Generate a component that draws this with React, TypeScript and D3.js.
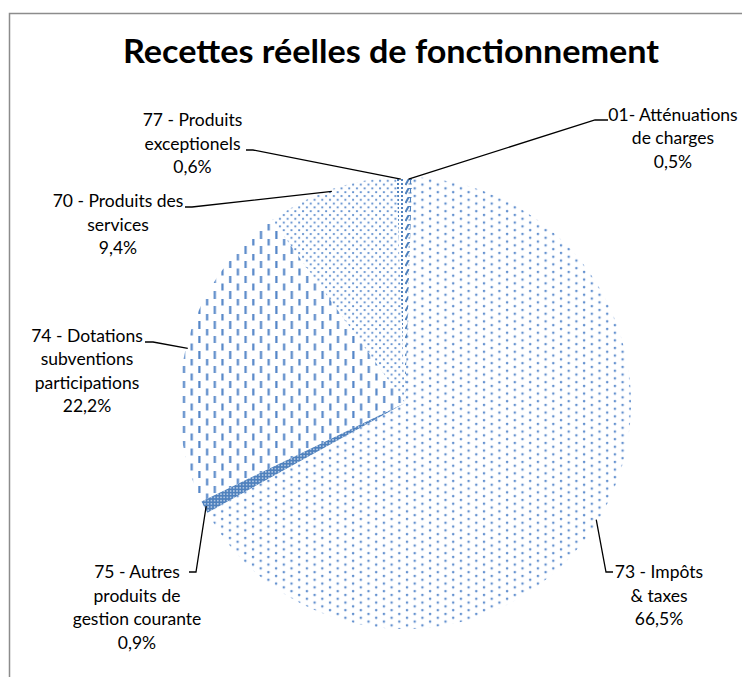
import React from 'react';
import * as d3 from 'd3';

const title = 'Recettes réelles de fonctionnement';
const categories = ['01', '73', '75', '74', '70', '77'];
const labelLines: string[][] = [
  ['01- Atténuations', 'de charges'],
  ['73 - Impôts', '& taxes'],
  ['75 - Autres', 'produits de', 'gestion courante'],
  ['74 - Dotations', 'subventions', 'participations'],
  ['70 - Produits des', 'services'],
  ['77 - Produits', 'exceptionels'],
];
const values = [0.5, 66.5, 0.9, 22.2, 9.4, 0.6];
const percentLabels = ['0,5%', '66,5%', '0,9%', '22,2%', '9,4%', '0,6%'];
const patternIds = ['p01', 'p73', 'p75', 'p74', 'p70', 'p77'];

// layout (label block centre x, first baseline, tail start, elbow)
const labelLayout = [
  { cx: 673, y0: 120.5, tail: [608, 120], elbow: [595, 120] },
  { cx: 659, y0: 578, tail: [613, 572], elbow: [606, 572] },
  { cx: 137, y0: 578, tail: [189, 572], elbow: [196, 572] },
  { cx: 87, y0: 341.5, tail: [145, 342], elbow: [153, 342] },
  { cx: 118, y0: 207, tail: [185, 207], elbow: [192, 207] },
  { cx: 192.5, y0: 126, tail: [246, 150], elbow: [253, 150] },
];

const W = 742;
const H = 677;
const CX = 405;
const CY = 403;
const R = 226;
const LH = 23.5;
const FONT = 'Lato, "Open Sans", sans-serif';

export default function App() {
  const pie = d3.pie<number>().sort(null).value((d) => d).startAngle(0).endAngle(2 * Math.PI);
  const arcs = pie(values);
  const arcGen = d3.arc<d3.PieArcDatum<number>>().innerRadius(0).outerRadius(R);

  return (
    <svg width={W} height={H} style={{ position: 'absolute', left: 0, top: 0, background: '#fff' }}>
      <defs>
        <pattern id="p73" patternUnits="userSpaceOnUse" width={15.4} height={7.6}>
          <circle cx={2} cy={2} r={1.3} fill="#6592cf" />
          <circle cx={9.7} cy={5.8} r={1.3} fill="#6592cf" />
        </pattern>
        <pattern id="p70" patternUnits="userSpaceOnUse" width={7.7} height={7.6}>
          <circle cx={2} cy={2} r={1.15} fill="#6592cf" />
          <circle cx={5.85} cy={5.8} r={1.15} fill="#6592cf" />
        </pattern>
        <pattern id="p74" patternUnits="userSpaceOnUse" width={15.4} height={15}>
          <rect x={1.2} y={0.5} width={2.2} height={7} fill="#5687c8" />
          <rect x={8.9} y={8} width={2.2} height={7} fill="#5687c8" />
        </pattern>
        <pattern id="p75" patternUnits="userSpaceOnUse" width={3.2} height={3.2}>
          <rect width={3.2} height={3.2} fill="#4f81bd" />
          <circle cx={1.6} cy={1.6} r={0.75} fill="#dbe5f3" />
        </pattern>
        <pattern id="p01" patternUnits="userSpaceOnUse" width={8} height={9}>
          <rect width={8} height={9} fill="#ffffff" />
          <path d="M0.5,7 L3.5,1.5" stroke="#4f81bd" strokeWidth={2} />
          <path d="M3,1.5 H8 M5.5,1.5 V6 M3.5,6 H8" stroke="#4f81bd" strokeWidth={1.2} />
        </pattern>
        <pattern id="p77" patternUnits="userSpaceOnUse" width={4} height={4}>
          <rect width={4} height={4} fill="#ffffff" />
          <rect x={0} y={0} width={2} height={2} fill="#4f81bd" />
        </pattern>
      </defs>

      <rect x={9.5} y={13.5} width={900} height={900} fill="none" stroke="#8c8c8c" strokeWidth={1.5} />

      <text
        x={391}
        y={63}
        textAnchor="middle"
        fontFamily={FONT}
        fontWeight="bold"
        fontSize={33}
        textLength={536}
        lengthAdjust="spacingAndGlyphs"
        fill="#000"
      >
        {title}
      </text>

      <g transform={`translate(${CX},${CY})`}>
        {arcs.map((a, i) => (
          <path key={categories[i]} d={arcGen(a) || ''} fill={`url(#${patternIds[i]})`} />
        ))}
      </g>

      {arcs.map((a, i) => {
        const mid = (a.startAngle + a.endAngle) / 2;
        const r = R - 2;
        const px = CX + r * Math.sin(mid);
        const py = CY - r * Math.cos(mid);
        const L = labelLayout[i];
        const pts: [number, number][] = [
          [L.tail[0], L.tail[1]],
          [L.elbow[0], L.elbow[1]],
          [px, py],
        ];
        const line = d3.line()(pts) || '';
        return <path key={'l' + i} d={line} fill="none" stroke="#000" strokeWidth={1.3} />;
      })}

      {arcs.map((a, i) => {
        const L = labelLayout[i];
        const lines = [...labelLines[i], percentLabels[i]];
        return (
          <text key={'t' + i} textAnchor="middle" fontFamily={FONT} fontSize={17.5} fill="#000">
            {lines.map((s, j) => (
              <tspan key={j} x={L.cx} y={L.y0 + j * LH}>
                {s}
              </tspan>
            ))}
          </text>
        );
      })}
    </svg>
  );
}
